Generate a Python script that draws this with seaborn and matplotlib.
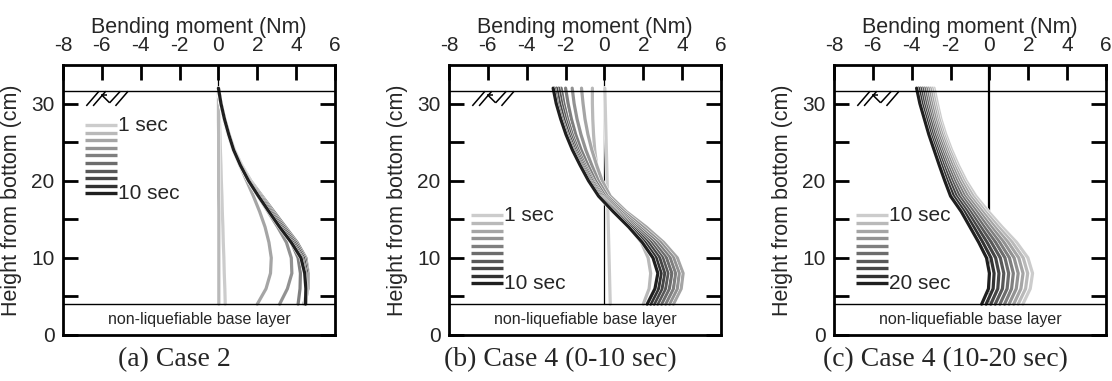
import numpy as np
import pandas as pd
import matplotlib
matplotlib.use("Agg")
import matplotlib.pyplot as plt
import matplotlib.patheffects as pe
import seaborn as sns

sns.set_theme(style="white")
plt.rcParams["font.family"] = ["Liberation Sans", "DejaVu Sans"]
plt.rcParams["axes.unicode_minus"] = False

# Heights along the pile (cm from bottom) at which moments were read
heights = [4, 6, 8, 10, 12, 14, 16, 18, 20, 22, 24, 26, 28, 30, 32]

# (a) Case 2, 1 ... 10 sec (Nm)
case2 = [
    [0.35, 0.33, 0.30, 0.28, 0.25, 0.23, 0.20, 0.18, 0.15, 0.13, 0.10, 0.08, 0.05, 0.03, 0.00],
    [0.02, 0.02, 0.02, 0.02, 0.02, 0.02, 0.02, 0.01, 0.01, 0.01, 0.01, 0.01, 0.00, 0.00, 0.00],
    [2.00, 2.45, 2.68, 2.72, 2.60, 2.40, 2.12, 1.80, 1.45, 1.10, 0.76, 0.50, 0.28, 0.11, 0.00],
    [3.15, 3.55, 3.78, 3.75, 3.50, 3.05, 2.55, 2.05, 1.55, 1.12, 0.78, 0.52, 0.30, 0.12, 0.00],
    [4.10, 4.20, 4.22, 4.10, 3.75, 3.25, 2.70, 2.15, 1.60, 1.16, 0.80, 0.54, 0.31, 0.13, 0.00],
    [4.40, 4.58, 4.62, 4.50, 4.05, 3.45, 2.85, 2.25, 1.66, 1.20, 0.82, 0.55, 0.32, 0.13, 0.00],
    [4.45, 4.60, 4.60, 4.45, 3.98, 3.38, 2.78, 2.20, 1.63, 1.18, 0.81, 0.55, 0.32, 0.13, 0.00],
    [4.45, 4.55, 4.55, 4.38, 3.90, 3.30, 2.72, 2.15, 1.60, 1.17, 0.80, 0.54, 0.32, 0.13, 0.00],
    [4.50, 4.52, 4.48, 4.30, 3.82, 3.22, 2.66, 2.10, 1.58, 1.15, 0.79, 0.54, 0.31, 0.13, 0.00],
    [4.48, 4.50, 4.44, 4.25, 3.75, 3.15, 2.60, 2.06, 1.55, 1.13, 0.78, 0.53, 0.31, 0.13, 0.00],
]

# (b) Case 4, 1 ... 10 sec (Nm)
case4_early = [
    [0.30, 0.28, 0.26, 0.24, 0.22, 0.20, 0.18, 0.16, 0.14, 0.12, 0.10, 0.08, 0.06, 0.04, 0.02],
    [2.00, 2.30, 2.38, 2.25, 1.90, 1.30, 0.60, 0.05, -0.25, -0.40, -0.50, -0.56, -0.60, -0.62, -0.62],
    [3.55, 3.95, 4.05, 3.75, 3.05, 2.15, 1.12, 0.30, -0.12, -0.40, -0.65, -0.85, -1.00, -1.10, -1.18],
    [3.35, 3.75, 3.85, 3.56, 2.89, 1.97, 0.99, 0.15, -0.32, -0.65, -0.96, -1.21, -1.41, -1.56, -1.66],
    [3.15, 3.55, 3.66, 3.38, 2.72, 1.79, 0.85, 0.03, -0.47, -0.85, -1.20, -1.48, -1.70, -1.87, -2.00],
    [2.94, 3.34, 3.47, 3.19, 2.55, 1.66, 0.73, -0.07, -0.59, -1.00, -1.36, -1.66, -1.90, -2.09, -2.23],
    [2.74, 3.14, 3.27, 3.00, 2.39, 1.54, 0.65, -0.14, -0.65, -1.07, -1.45, -1.75, -2.00, -2.20, -2.35],
    [2.56, 2.96, 3.10, 2.84, 2.25, 1.45, 0.58, -0.20, -0.72, -1.14, -1.53, -1.84, -2.10, -2.31, -2.47],
    [2.38, 2.78, 2.92, 2.66, 2.09, 1.35, 0.51, -0.25, -0.77, -1.20, -1.60, -1.93, -2.20, -2.43, -2.58],
    [2.20, 2.60, 2.75, 2.50, 1.95, 1.25, 0.45, -0.30, -0.82, -1.25, -1.65, -1.98, -2.25, -2.48, -2.64],
]

# (c) Case 4, 10 ... 20 sec (Nm)
case4_late = [
    [1.72, 2.10, 2.22, 1.98, 1.40, 0.65, -0.05, -0.70, -1.20, -1.60, -1.95, -2.25, -2.50, -2.68, -2.85],
    [1.48, 1.86, 1.97, 1.74, 1.18, 0.47, -0.21, -0.84, -1.32, -1.71, -2.05, -2.35, -2.59, -2.78, -2.95],
    [1.25, 1.62, 1.73, 1.51, 0.97, 0.28, -0.36, -0.99, -1.44, -1.82, -2.15, -2.44, -2.69, -2.88, -3.05],
    [1.01, 1.38, 1.48, 1.27, 0.75, 0.10, -0.52, -1.13, -1.57, -1.93, -2.25, -2.54, -2.78, -2.98, -3.15],
    [0.78, 1.14, 1.23, 1.03, 0.53, -0.08, -0.67, -1.28, -1.69, -2.04, -2.35, -2.64, -2.88, -3.08, -3.25],
    [0.54, 0.91, 0.99, 0.80, 0.32, -0.27, -0.83, -1.42, -1.81, -2.15, -2.45, -2.74, -2.97, -3.18, -3.35],
    [0.30, 0.67, 0.74, 0.56, 0.10, -0.45, -0.99, -1.56, -1.93, -2.25, -2.55, -2.83, -3.06, -3.28, -3.45],
    [0.07, 0.43, 0.49, 0.32, -0.12, -0.63, -1.14, -1.71, -2.05, -2.36, -2.65, -2.93, -3.16, -3.38, -3.55],
    [-0.17, 0.19, 0.24, 0.08, -0.34, -0.81, -1.30, -1.85, -2.18, -2.47, -2.75, -3.03, -3.25, -3.48, -3.65],
    [-0.40, -0.05, 0.00, -0.15, -0.55, -1.00, -1.45, -2.00, -2.30, -2.58, -2.85, -3.12, -3.35, -3.58, -3.75],
]

panels = [case2, case4_early, case4_late]
captions = ["(a) Case 2", "(b) Case 4 (0-10 sec)", "(c) Case 4 (10-20 sec)"]
legend_text = [("1 sec", "10 sec"), ("1 sec", "10 sec"), ("10 sec", "20 sec")]
legend_top = [27.2, 15.5, 15.5]

ground_level = 31.6
base_level = 4.0

x_ticks = [-8, -6, -4, -2, 0, 2, 4, 6]
y_major = [0, 10, 20, 30]
y_minor = [5, 15, 25]

shades = [str(round(v, 3)) for v in np.linspace(0.80, 0.12, 10)]

# Ground-surface hatch symbol (segments in data units)
ground_mark = [
    ((-6.80, 29.7), (-6.15, 31.6)),
    ((-6.45, 29.7), (-5.80, 31.6)),
    ((-6.00, 31.1), (-5.60, 30.1)),
    ((-5.60, 30.1), (-5.05, 31.6)),
    ((-6.05, 31.1), (-5.75, 31.1)),
    ((-5.30, 29.7), (-4.65, 31.6)),
]

fig = plt.figure(figsize=(11.12, 3.81), dpi=100)
lefts = [63 / 1112, 449 / 1112, 834 / 1112]
width = 272 / 1112
bottom = 46 / 381
height = 270 / 381

outline = [pe.Stroke(linewidth=3.0, foreground="white"), pe.Normal()]

for k, (curves, cap, (lab_first, lab_last), ltop) in enumerate(
        zip(panels, captions, legend_text, legend_top)):
    ax = fig.add_axes([lefts[k], bottom, width, height])

    rows = []
    for i, vals in enumerate(curves):
        for h, m in zip(heights, vals):
            rows.append({"time": i, "height": h, "moment": m})
    df = pd.DataFrame(rows)

    # zero-moment reference line
    ax.plot([0, 0], [base_level, 35], color="black",
            lw=1.6 if k == 2 else 0.9, zorder=1)

    sns.lineplot(data=df, x="moment", y="height", hue="time",
                 palette=shades, orient="y", estimator=None,
                 legend=False, lw=2.3, ax=ax, zorder=3,
                 path_effects=outline)

    ax.axhline(ground_level, color="black", lw=1.0, zorder=4)
    ax.axhline(base_level, color="black", lw=1.0, zorder=4)
    ax.text(-1, 2.0, "non-liquefiable base layer", ha="center", va="center",
            fontsize=11.5)

    for (x0, y0), (x1, y1) in ground_mark:
        ax.plot([x0, x1], [y0, y1], color="black", lw=1.1, zorder=4,
                solid_capstyle="butt")

    # time-step key
    step = 0.98
    for i, c in enumerate(shades):
        y = ltop - i * step
        ax.plot([-6.85, -5.2], [y, y], color=c, lw=2.4, zorder=4,
                solid_capstyle="butt")
    ax.text(-5.18, ltop, lab_first, ha="left", va="center", fontsize=15)
    ax.text(-5.18, ltop - 9 * step, lab_last, ha="left", va="center",
            fontsize=15)

    ax.set_xlim(-8, 6)
    ax.set_ylim(0, 35)
    ax.set_xticks(x_ticks)
    ax.set_yticks(y_major)
    ax.set_yticks(y_minor, minor=True)
    ax.xaxis.set_ticks_position("top")
    ax.xaxis.set_label_position("top")
    ax.tick_params(axis="x", which="both", direction="in", length=11, width=2,
                   top=True, bottom=False, labeltop=True, labelbottom=False,
                   labelsize=15, pad=7, color="black")
    ax.tick_params(axis="y", which="both", direction="in", length=11, width=2,
                   left=True, right=True, labelsize=15, pad=6, color="black")
    ax.set_xlabel("Bending moment (Nm)", fontsize=15.5, labelpad=2)
    ax.set_ylabel("Height from bottom (cm)", fontsize=15.5)
    ax.yaxis.set_label_coords(-0.15, 0.5)
    for s in ax.spines.values():
        s.set_color("black")
        s.set_linewidth(2.0)
        s.set_visible(True)

    fig.text(lefts[k] + width / 2 - 25 / 1112, 0.055, cap, ha="center",
             va="center", fontsize=20,
             family=["Liberation Serif", "DejaVu Serif"])

fig.savefig("out.png", dpi=100)
